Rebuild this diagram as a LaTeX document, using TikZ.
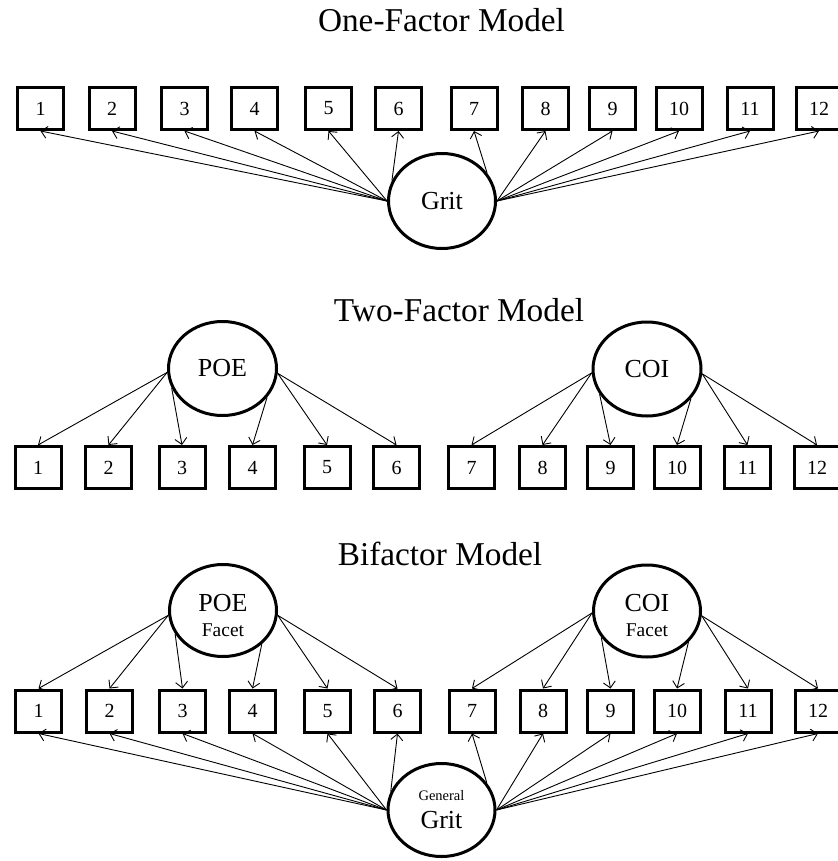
\documentclass[tikz,border=0pt]{standalone}
\usepackage{fontspec}
\setmainfont{Liberation Serif}
\usetikzlibrary{shapes.geometric,arrows.meta}

\tikzset{
  title/.style={anchor=base, font=\fontsize{33.3}{36}\selectfont},
  item/.style={draw, line width=3pt, minimum width=46pt, minimum height=42pt,
               inner sep=0pt, font=\fontsize{20}{22}\selectfont},
  factor/.style={ellipse, draw, line width=3pt, inner sep=0pt,
                 minimum width=107pt, minimum height=93pt},
  bigtxt/.style={anchor=base, font=\fontsize{26}{28}\selectfont, inner sep=0pt},
  smalltxt/.style={anchor=base, font=\fontsize{19.5}{21}\selectfont, inner sep=0pt},
  tinytxt/.style={anchor=base, font=\fontsize{14.5}{16}\selectfont, inner sep=0pt},
  load/.style={line width=0.9pt, -{Straight Barb[length=6pt,width=12pt]}}
}

\begin{document}
\begin{tikzpicture}[x=1pt, y=-1pt]
\useasboundingbox (0,0) rectangle (837,861);

% ---------- One-Factor Model ----------
\node[title] (t1) at (441.5,32) {One-Factor Model};
\foreach \n/\x in {1/40.5,2/112,3/184.5,4/254.5,5/328.5,6/398.5,
                   7/474,8/545.5,9/612.5,10/679,11/750,12/819}
  \node[item] (a\n) at (\x,108.5) {\n};
\node[factor, minimum height=95pt, font=\fontsize{26}{28}\selectfont] (g1) at (442,201) {Grit};
\foreach \n in {1,...,5} \draw[load] (g1.180) -- (a\n.south);
\draw[load] (g1.158) -- (a6.south);
\draw[load] (g1.32) -- (a7.south);
\foreach \n in {8,...,12} \draw[load] (g1.0) -- (a\n.south);

% ---------- Two-Factor Model ----------
\node[title] (t2) at (459,321) {Two-Factor Model};
\foreach \n/\x in {1/38,2/108.5,3/182,4/252.5,5/327,6/396.5,
                   7/471.5,8/542.5,9/610.5,10/677,11/747.5,12/817}
  \node[item] (b\n) at (\x,467.5) {\n};
\node[factor, minimum width=108pt, minimum height=94pt, font=\fontsize{26}{28}\selectfont] (p2) at (222.5,368.5) {POE};
\node[factor, minimum width=108pt, minimum height=94pt, font=\fontsize{26}{28}\selectfont] (c2) at (647,369) {COI};
\foreach \n in {1,2} \draw[load] (p2.184) -- (b\n.north);
\draw[load] (p2.201) -- (b3.north);
\draw[load] (p2.327) -- (b4.north);
\foreach \n in {5,6} \draw[load] (p2.355) -- (b\n.north);
\foreach \n in {7,8} \draw[load] (c2.184) -- (b\n.north);
\draw[load] (c2.208) -- (b9.north);
\draw[load] (c2.326) -- (b10.north);
\foreach \n in {11,12} \draw[load] (c2.355) -- (b\n.north);

% ---------- Bifactor Model ----------
\node[title] (t3) at (440,565) {Bifactor Model};
\foreach \n/\x in {1/38.5,2/109.5,3/182.5,4/252.5,5/327.5,6/397.5,
                   7/472,8/543,9/610.5,10/677,11/748,12/818}
  \node[item] (c\n) at (\x,711) {\n};
\node[factor, minimum height=92pt] (p3) at (223,610.5) {};
\node[bigtxt] (p3a) at ([yshift=-0.5pt]p3.center) {POE};
\node[smalltxt] (p3b) at ([yshift=-25.5pt]p3.center) {Facet};
\node[factor, minimum height=92pt] (k3) at (647,611) {};
\node[bigtxt] (k3a) at ([yshift=-0.5pt]k3.center) {COI};
\node[smalltxt] (k3b) at ([yshift=-25.5pt]k3.center) {Facet};
\node[factor] (g3) at (441.5,810) {};
\node[tinytxt] (g3a) at ([yshift=10pt]g3.center) {General};
\node[bigtxt] (g3b) at ([yshift=-18pt]g3.center) {Grit};

\foreach \n in {1,2} \draw[load] (p3.185) -- (c\n.north);
\draw[load] (p3.206) -- (c3.north);
\draw[load] (p3.319) -- (c4.north);
\foreach \n in {5,6} \draw[load] (p3.355) -- (c\n.north);
\foreach \n in {7,8} \draw[load] (k3.182) -- (c\n.north);
\draw[load] (k3.210) -- (c9.north);
\draw[load] (k3.323) -- (c10.north);
\foreach \n in {11,12} \draw[load] (k3.355) -- (c\n.north);

\foreach \n in {1,...,5} \draw[load] (g3.180) -- (c\n.south);
\draw[load] (g3.160) -- (c6.south);
\draw[load] (g3.31) -- (c7.south);
\foreach \n in {8,...,12} \draw[load] (g3.0) -- (c\n.south);
\end{tikzpicture}
\end{document}
